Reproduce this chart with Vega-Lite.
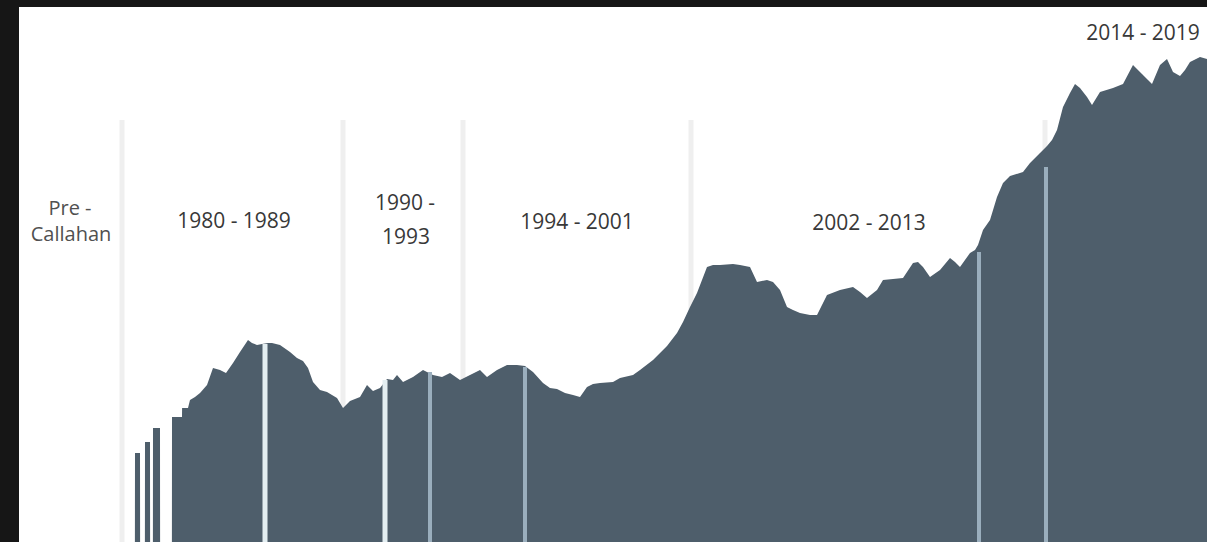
{
  "$schema": "https://vega.github.io/schema/vega-lite/v6.json",
  "width": 1188,
  "height": 535,
  "autosize": "none",
  "padding": {"top": 7, "left": 19, "right": 0, "bottom": 0},
  "background": "#161616",
  "config": {"view": {"fill": "#ffffff", "stroke": null}},
  "datasets": {
    "separators": [
      {"t": 122, "top": 422},
      {"t": 343, "top": 422},
      {"t": 463, "top": 422},
      {"t": 691, "top": 422},
      {"t": 1045, "top": 422}
    ],
    "profile": [
      {"t": 134.9, "v": 0}, {"t": 135, "v": 89}, {"t": 140, "v": 89}, {"t": 140.1, "v": 0},
      {"t": 144.9, "v": 0}, {"t": 145, "v": 100}, {"t": 150, "v": 100}, {"t": 150.1, "v": 0},
      {"t": 152.9, "v": 0}, {"t": 153, "v": 114}, {"t": 160, "v": 114}, {"t": 160.1, "v": 0},
      {"t": 171.9, "v": 0}, {"t": 172, "v": 125}, {"t": 182, "v": 125}, {"t": 182.1, "v": 134},
      {"t": 188, "v": 134}, {"t": 190, "v": 142}, {"t": 195, "v": 145}, {"t": 200, "v": 149},
      {"t": 207, "v": 157}, {"t": 213, "v": 174}, {"t": 220, "v": 172}, {"t": 226, "v": 169},
      {"t": 233, "v": 179}, {"t": 240, "v": 190}, {"t": 248, "v": 202}, {"t": 252, "v": 199},
      {"t": 257, "v": 197}, {"t": 262, "v": 198}, {"t": 268, "v": 199}, {"t": 272, "v": 199},
      {"t": 280, "v": 197}, {"t": 290, "v": 190}, {"t": 297, "v": 184}, {"t": 303, "v": 181},
      {"t": 308, "v": 174}, {"t": 313, "v": 160}, {"t": 320, "v": 152}, {"t": 327, "v": 150},
      {"t": 337, "v": 144}, {"t": 343, "v": 134}, {"t": 350, "v": 141}, {"t": 360, "v": 145},
      {"t": 367, "v": 157}, {"t": 373, "v": 151}, {"t": 380, "v": 154}, {"t": 387, "v": 163},
      {"t": 393, "v": 162}, {"t": 397, "v": 167}, {"t": 403, "v": 160}, {"t": 413, "v": 165},
      {"t": 423, "v": 172}, {"t": 433, "v": 167}, {"t": 442, "v": 165}, {"t": 450, "v": 169},
      {"t": 460, "v": 162}, {"t": 470, "v": 167}, {"t": 480, "v": 172}, {"t": 487, "v": 165},
      {"t": 497, "v": 172}, {"t": 507, "v": 177}, {"t": 517, "v": 177}, {"t": 525, "v": 176},
      {"t": 533, "v": 170}, {"t": 543, "v": 159}, {"t": 550, "v": 154}, {"t": 557, "v": 153},
      {"t": 565, "v": 149}, {"t": 573, "v": 147}, {"t": 580, "v": 145}, {"t": 587, "v": 155},
      {"t": 593, "v": 158}, {"t": 600, "v": 159}, {"t": 613, "v": 160}, {"t": 620, "v": 164},
      {"t": 633, "v": 167}, {"t": 640, "v": 172}, {"t": 653, "v": 182}, {"t": 667, "v": 196},
      {"t": 677, "v": 209}, {"t": 683, "v": 220}, {"t": 690, "v": 235}, {"t": 697, "v": 249},
      {"t": 702, "v": 262}, {"t": 707, "v": 275}, {"t": 713, "v": 277}, {"t": 720, "v": 277},
      {"t": 733, "v": 278}, {"t": 740, "v": 277}, {"t": 750, "v": 275}, {"t": 757, "v": 260},
      {"t": 767, "v": 262}, {"t": 773, "v": 260}, {"t": 780, "v": 252}, {"t": 787, "v": 235},
      {"t": 793, "v": 232}, {"t": 800, "v": 229}, {"t": 810, "v": 227}, {"t": 817, "v": 227},
      {"t": 822, "v": 237}, {"t": 827, "v": 247}, {"t": 840, "v": 252}, {"t": 853, "v": 255},
      {"t": 860, "v": 250}, {"t": 867, "v": 244}, {"t": 877, "v": 252}, {"t": 883, "v": 262},
      {"t": 893, "v": 263}, {"t": 903, "v": 264}, {"t": 913, "v": 279}, {"t": 918, "v": 280},
      {"t": 923, "v": 275}, {"t": 930, "v": 265}, {"t": 940, "v": 272}, {"t": 950, "v": 284},
      {"t": 955, "v": 280}, {"t": 960, "v": 275}, {"t": 970, "v": 289}, {"t": 975, "v": 292},
      {"t": 978, "v": 297}, {"t": 983, "v": 312}, {"t": 990, "v": 322}, {"t": 997, "v": 345},
      {"t": 1003, "v": 359}, {"t": 1010, "v": 366}, {"t": 1023, "v": 370}, {"t": 1030, "v": 379},
      {"t": 1040, "v": 389}, {"t": 1047, "v": 396}, {"t": 1052, "v": 402}, {"t": 1057, "v": 412},
      {"t": 1063, "v": 435}, {"t": 1070, "v": 449}, {"t": 1075, "v": 458}, {"t": 1080, "v": 454},
      {"t": 1087, "v": 445}, {"t": 1092, "v": 437}, {"t": 1100, "v": 450}, {"t": 1113, "v": 454},
      {"t": 1123, "v": 458}, {"t": 1133, "v": 477}, {"t": 1142, "v": 468}, {"t": 1148, "v": 462},
      {"t": 1152, "v": 458}, {"t": 1160, "v": 477}, {"t": 1167, "v": 483}, {"t": 1173, "v": 470},
      {"t": 1180, "v": 466}, {"t": 1185, "v": 472}, {"t": 1190, "v": 480}, {"t": 1200, "v": 485},
      {"t": 1207, "v": 483}
    ],
    "brightLines": [
      {"t": 265, "top": 198},
      {"t": 385, "top": 162}
    ],
    "mutedLines": [
      {"t": 430, "top": 170},
      {"t": 525, "top": 175},
      {"t": 979, "top": 290},
      {"t": 1046, "top": 375}
    ],
    "eraLabels": [
      {"t": 234, "v": 320, "label": "1980 - 1989"},
      {"t": 405, "v": 338, "label": "1990 -"},
      {"t": 406, "v": 304, "label": "1993"},
      {"t": 577, "v": 319, "label": "1994 - 2001"},
      {"t": 869, "v": 318, "label": "2002 - 2013"},
      {"t": 1143, "v": 508, "label": "2014 - 2019"}
    ],
    "preLabels": [
      {"t": 70, "v": 333, "label": "Pre -"},
      {"t": 71, "v": 307, "label": "Callahan"}
    ]
  },
  "layer": [
    {
      "data": {"name": "separators"},
      "mark": {"type": "rule", "color": "#efefef", "strokeWidth": 5},
      "encoding": {
        "x": {"field": "t", "type": "quantitative", "scale": {"domain": [19, 1207], "nice": false, "zero": false}, "axis": null},
        "y": {"field": "top", "type": "quantitative", "scale": {"domain": [0, 535], "nice": false}, "axis": null},
        "y2": {"datum": 0}
      }
    },
    {
      "data": {"name": "profile"},
      "mark": {"type": "area", "color": "#4e5e6b", "interpolate": "linear"},
      "encoding": {
        "x": {"field": "t", "type": "quantitative"},
        "y": {"field": "v", "type": "quantitative"}
      }
    },
    {
      "data": {"name": "brightLines"},
      "mark": {"type": "rule", "color": "#e3eef1", "strokeWidth": 5},
      "encoding": {
        "x": {"field": "t", "type": "quantitative"},
        "y": {"field": "top", "type": "quantitative"},
        "y2": {"datum": 0}
      }
    },
    {
      "data": {"name": "mutedLines"},
      "mark": {"type": "rule", "color": "#9aaebd", "strokeWidth": 4},
      "encoding": {
        "x": {"field": "t", "type": "quantitative"},
        "y": {"field": "top", "type": "quantitative"},
        "y2": {"datum": 0}
      }
    },
    {
      "data": {"name": "eraLabels"},
      "mark": {"type": "text", "font": "Open Sans", "fontSize": 21, "color": "#383838", "align": "center", "baseline": "middle"},
      "encoding": {
        "x": {"field": "t", "type": "quantitative"},
        "y": {"field": "v", "type": "quantitative"},
        "text": {"field": "label", "type": "nominal"}
      }
    },
    {
      "data": {"name": "preLabels"},
      "mark": {"type": "text", "font": "Open Sans", "fontSize": 20, "color": "#505050", "align": "center", "baseline": "middle"},
      "encoding": {
        "x": {"field": "t", "type": "quantitative"},
        "y": {"field": "v", "type": "quantitative"},
        "text": {"field": "label", "type": "nominal"}
      }
    }
  ]
}
